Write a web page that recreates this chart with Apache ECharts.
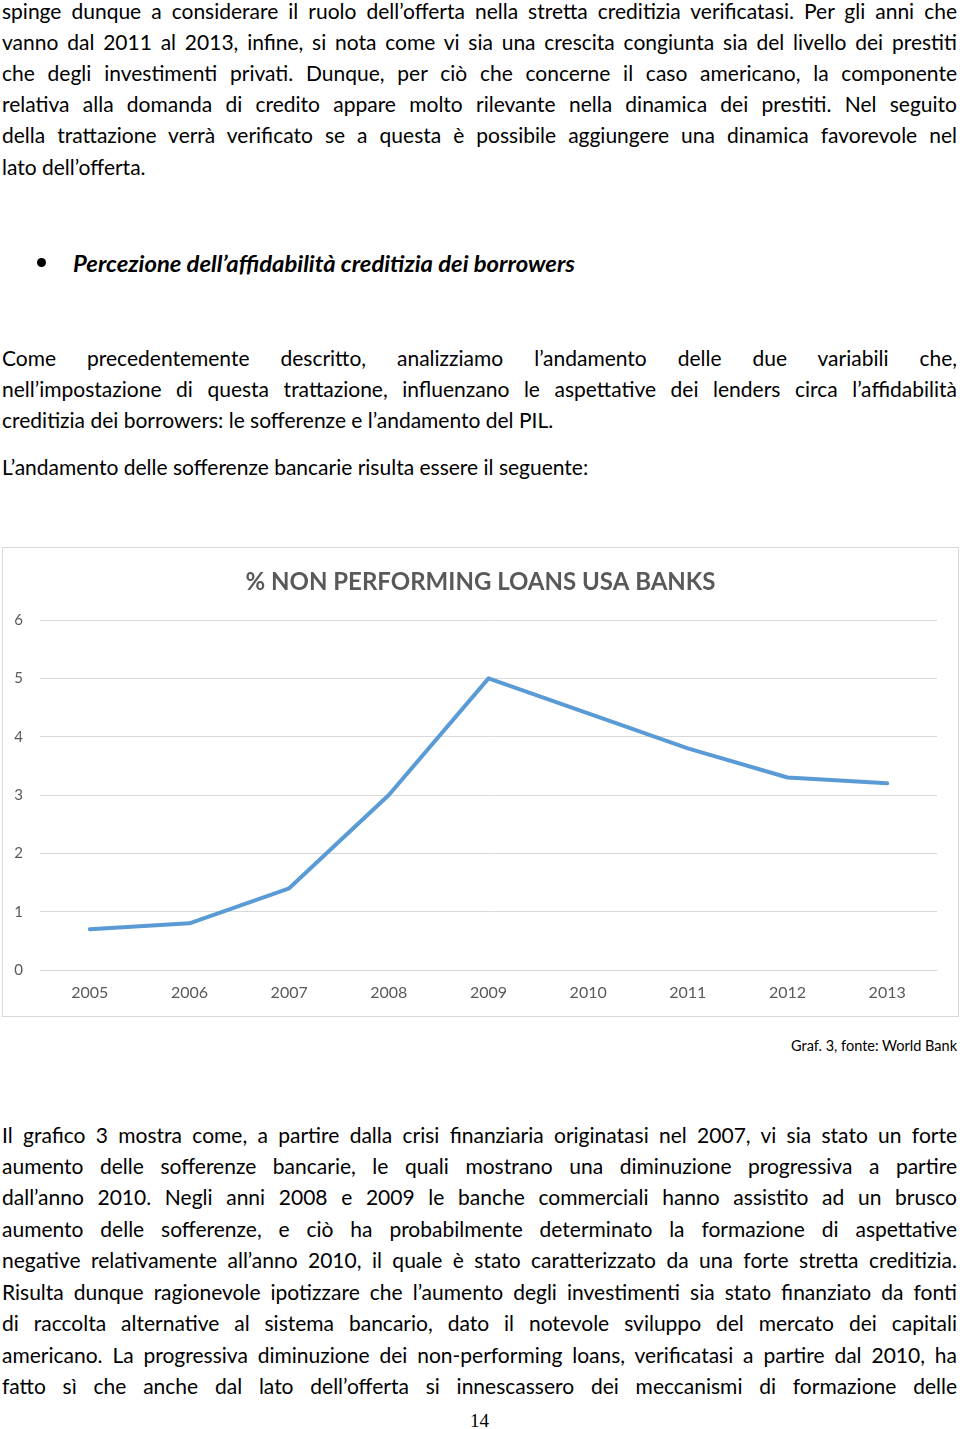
<!DOCTYPE html>
<html><head><meta charset="utf-8">
<script src="https://cdn.jsdelivr.net/npm/echarts@6/dist/echarts.min.js"></script>
<style>
html,body{margin:0;padding:0;background:#fff;}
body{width:960px;height:1429px;position:relative;overflow:hidden;font-family:Lato,"Liberation Sans",sans-serif;color:#000;}
.ln{position:absolute;left:2px;width:955px;font-size:21px;line-height:24px;white-space:nowrap;}
.ln span{display:inline-block;transform-origin:left center;}
#chart{position:absolute;left:2px;top:547px;width:955px;height:468px;border:1px solid #d9d9d9;}
#cap{position:absolute;right:3px;top:1037px;font-size:14.5px;}
#pg{position:absolute;left:470px;top:1410px;font-family:"Liberation Serif","DejaVu Serif",serif;font-size:19px;}
#hd{position:absolute;left:73px;top:249px;font-size:23px;font-weight:bold;font-style:italic;white-space:nowrap;}
#bul{position:absolute;left:37px;top:258px;width:9px;height:9px;border-radius:50%;background:#000;}
</style></head><body>
<div id="text"></div>
<div id="bul"></div>
<div id="hd">Percezione dell’affidabilità creditizia dei borrowers</div>
<div id="chart"></div>
<div id="cap">Graf. 3, fonte: World Bank</div>
<div id="pg">14</div>
<script>
const years = ["2005","2006","2007","2008","2009","2010","2011","2012","2013"];
const npl = [0.7, 0.8, 1.4, 3.0, 5.0, 4.4, 3.8, 3.3, 3.2];
const chartTitle = "% NON PERFORMING LOANS USA BANKS";

const lines = [
 [11,"spinge dunque a considerare il ruolo dell’offerta nella stretta creditizia verificatasi. Per gli anni che",1],
 [42,"vanno dal 2011 al 2013, infine, si nota come vi sia una crescita congiunta sia del livello dei prestiti",1],
 [73,"che degli investimenti privati. Dunque, per ciò che concerne il caso americano, la componente",1],
 [104,"relativa alla domanda di credito appare molto rilevante nella dinamica dei prestiti. Nel seguito",1],
 [135,"della trattazione verrà verificato se a questa è possibile aggiungere una dinamica favorevole nel",1],
 [167,"lato dell’offerta.",0],
 [358,"Come precedentemente descritto, analizziamo l’andamento delle due variabili che,",1],
 [389,"nell’impostazione di questa trattazione, influenzano le aspettative dei lenders circa l’affidabilità",1],
 [420,"creditizia dei borrowers: le sofferenze e l’andamento del PIL.",0],
 [467,"L’andamento delle sofferenze bancarie risulta essere il seguente:",0],
 [1135,"Il grafico 3 mostra come, a partire dalla crisi finanziaria originatasi nel 2007, vi sia stato un forte",1],
 [1166,"aumento delle sofferenze bancarie, le quali mostrano una diminuzione progressiva a partire",1],
 [1197,"dall’anno 2010. Negli anni 2008 e 2009 le banche commerciali hanno assistito ad un brusco",1],
 [1229,"aumento delle sofferenze, e ciò ha probabilmente determinato la formazione di aspettative",1],
 [1260,"negative relativamente all’anno 2010, il quale è stato caratterizzato da una forte stretta creditizia.",1],
 [1292,"Risulta dunque ragionevole ipotizzare che l’aumento degli investimenti sia stato finanziato da fonti",1],
 [1323,"di raccolta alternative al sistema bancario, dato il notevole sviluppo del mercato dei capitali",1],
 [1355,"americano. La progressiva diminuzione dei non-performing loans, verificatasi a partire dal 2010, ha",1],
 [1386,"fatto sì che anche dal lato dell’offerta si innescassero dei meccanismi di formazione delle",1]
];
const host = document.getElementById('text');
lines.forEach(([y, t, j]) => {
  const d = document.createElement('div');
  d.className = 'ln'; d.style.top = (y - 12) + 'px';
  const s = document.createElement('span'); s.textContent = t;
  d.appendChild(s); host.appendChild(d);
  const W = 955;
  let w = s.getBoundingClientRect().width;
  const spaces = (t.match(/ /g) || []).length;
  if (j) {
    let ws = (W - w) / spaces;
    if (ws < -1) {
      const sc = (W - spaces * 2) / w;
      s.style.transform = 'scaleX(' + sc + ')';
      s.style.wordSpacing = (2 / sc) + 'px';
    } else {
      s.style.wordSpacing = ws + 'px';
    }
  } else if (w > W) {
    s.style.transform = 'scaleX(' + (W / w) + ')';
  }
});
const hd = document.getElementById('hd');
const hw = hd.getBoundingClientRect().width;
hd.style.transformOrigin = 'left center';
hd.style.transform = 'scaleX(' + (502 / hw) + ')';

const chart = echarts.init(document.getElementById('chart'), null, {renderer: 'canvas'});
const lblFont = 'Lato,"Liberation Sans",sans-serif';
chart.setOption({
  animation: false,
  title: {
    text: chartTitle, left: 'center', top: 17,
    textStyle: {fontSize: 24, fontWeight: 'bold', color: '#595959', fontFamily: lblFont}
  },
  grid: {left: 37, right: 21, top: 72, bottom: 46, containLabel: false},
  xAxis: {
    type: 'category', data: years, boundaryGap: true,
    axisLine: {show: true, lineStyle: {color: '#d9d9d9', width: 1}},
    axisTick: {show: false},
    axisLabel: {color: '#595959', fontSize: 16, margin: 15, fontFamily: lblFont}
  },
  yAxis: {
    type: 'value', min: 0, max: 6, interval: 1,
    axisLine: {show: false}, axisTick: {show: false},
    splitLine: {lineStyle: {color: '#d9d9d9', width: 1}},
    axisLabel: {color: '#595959', fontSize: 15, margin: 17, fontFamily: lblFont}
  },
  series: [{
    type: 'line', data: npl, symbol: 'none',
    lineStyle: {color: '#5b9bd5', width: 4, cap: 'round', join: 'round'}
  }]
});
</script>
</body></html>
